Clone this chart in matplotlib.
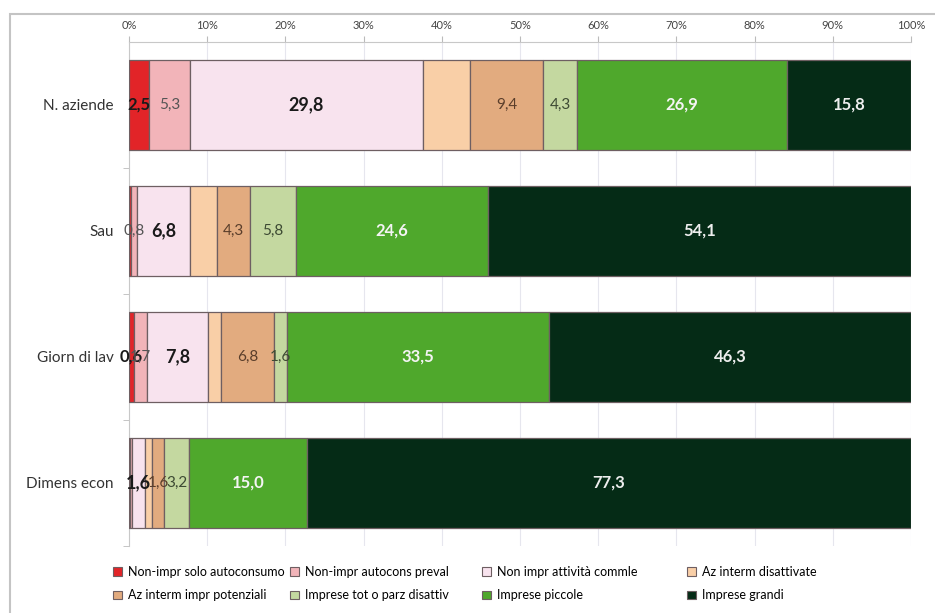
import matplotlib.pyplot as plt
from matplotlib.patches import Patch, Rectangle

# Data: shares (%) of each farm type, per indicator
categories = ["N. aziende", "Sau", "Giorn di lav", "Dimens econ"]
series_names = [
    "Non-impr solo autoconsumo",
    "Non-impr autocons preval",
    "Non impr attività commle",
    "Az interm disattivate",
    "Az interm impr potenziali",
    "Imprese tot o parz disattiv",
    "Imprese piccole",
    "Imprese grandi",
]
solo_autoconsumo = [2.5, 0.2, 0.6, 0.1]
autocons_preval = [5.3, 0.8, 1.7, 0.3]
attivita_commle = [29.8, 6.8, 7.8, 1.6]
interm_disattivate = [6.0, 3.4, 1.7, 0.9]
interm_potenziali = [9.4, 4.3, 6.8, 1.6]
tot_parz_disattiv = [4.3, 5.8, 1.6, 3.2]
imprese_piccole = [26.9, 24.6, 33.5, 15.0]
imprese_grandi = [15.8, 54.1, 46.3, 77.3]
x_ticks = [0, 10, 20, 30, 40, 50, 60, 70, 80, 90, 100]

series = [solo_autoconsumo, autocons_preval, attivita_commle, interm_disattivate,
          interm_potenziali, tot_parz_disattiv, imprese_piccole, imprese_grandi]
colors = ["#e22428", "#f2b4b9", "#f8e3ee", "#f9cfa7",
          "#e2ab7f", "#c4d8a0", "#4fa82c", "#052b16"]
# label style per series: (show, color, weight, size)
label_styles = [
    (True, "#1a1a1a", "bold", 12),
    (True, "#555555", "normal", 11),
    (True, "#1a1a1a", "bold", 13),
    (False, None, None, None),
    (True, "#5a3e2b", "normal", 11),
    (True, "#3d4a33", "normal", 11),
    (True, "#f4f4f4", "bold", 12),
    (True, "#eeeeee", "bold", 12),
]

plt.rcParams['font.family'] = ['Lato', 'DejaVu Sans']

fig = plt.figure(figsize=(9.35, 6.13), dpi=100)
ax = fig.add_axes([129 / 935, 1 - 546 / 613, (911 - 129) / 935, (546 - 42) / 613])

ypos = list(range(len(categories)))
left = [0.0] * len(categories)
for vals, col, name, style in zip(series, colors, series_names, label_styles):
    bars = ax.barh(ypos, vals, left=left, height=0.71, color=col,
                   edgecolor="#6e5f62", linewidth=0.9, label=name, zorder=3)
    show, tcol, weight, size = style
    if show:
        labels = [f"{v:.1f}".replace(".", ",") if v >= 0.5 else "" for v in vals]
        ax.bar_label(bars, labels=labels, label_type="center", color=tcol,
                     fontweight=weight, fontsize=size, zorder=5)
    left = [a + b for a, b in zip(left, vals)]

ax.set_xlim(0, 100)
ax.set_ylim(3.5, -0.5)
ax.xaxis.tick_top()
ax.set_xticks(x_ticks)
ax.set_xticklabels([f"{t}%" for t in x_ticks], fontsize=8, color="#444444")
ax.tick_params(axis="x", length=4, color="#bbbbbb", pad=4)
ax.set_yticks(ypos)
ax.set_yticklabels(categories, fontsize=11, color="#333333")
ax.tick_params(axis="y", length=0, pad=11)
ax.set_yticks([0.5, 1.5, 2.5, 3.5], minor=True)
ax.tick_params(axis="y", which="minor", length=4, color="#bbbbbb")
ax.grid(axis="x", color="#e6e6ee", linewidth=0.8, zorder=0)
for s in ["right", "bottom"]:
    ax.spines[s].set_visible(False)
for s in ["top", "left"]:
    ax.spines[s].set_color("#c8c8c8")

# outer chart frame (cut at right and bottom like the source)
fig.patches.append(Rectangle((10 / 935, -0.1), 1.2, 1 - 14 / 613 + 0.1,
                             transform=fig.transFigure, fill=False,
                             edgecolor="#c4c4c4", linewidth=1.5))

# legend: four columns at the positions used in the source
handles = [Patch(facecolor=c, edgecolor="#6e5f62", linewidth=0.8) for c in colors]
col_x = [113, 290, 482, 687]
for k, x in enumerate(col_x):
    idx = [k, k + 4]
    fig.legend([handles[i] for i in idx], [series_names[i] for i in idx],
               loc="upper left", bbox_to_anchor=(x / 935, 1 - 566 / 613),
               frameon=False, fontsize=9, handlelength=0.7, handleheight=0.7,
               handletextpad=0.5, labelspacing=0.9,
               borderaxespad=0, borderpad=0)

fig.savefig("out.png", dpi=100)
